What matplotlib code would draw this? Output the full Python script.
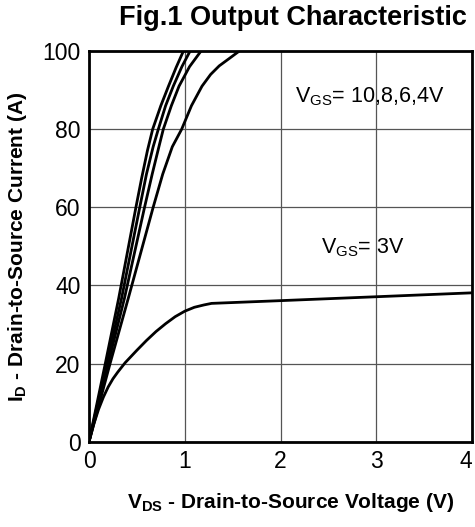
import matplotlib
matplotlib.use("Agg")
import matplotlib.pyplot as plt

plt.rcParams['font.family'] = ['Liberation Sans', 'DejaVu Sans']
plt.rcParams['mathtext.fontset'] = 'custom'
plt.rcParams['mathtext.rm'] = 'Liberation Sans'
plt.rcParams['mathtext.bf'] = 'Liberation Sans:bold'
plt.rcParams['mathtext.it'] = 'Liberation Sans:italic'

# Data
v10 = [0, 0.17, 0.31, 0.49, 0.55, 0.61, 0.665, 0.75, 0.83, 0.91, 0.986]
i10 = [0, 20, 36.7, 60, 67.5, 74.5, 80, 86, 91, 95.8, 100]
v8 = [0, 0.185, 0.34, 0.53, 0.60, 0.67, 0.724, 0.80, 0.88, 0.97, 1.056]
i8 = [0, 20, 36.7, 60, 68.5, 75.5, 80, 86, 91, 96, 100]
v6 = [0, 0.2, 0.37, 0.58, 0.66, 0.73, 0.776, 0.86, 0.94, 1.05, 1.17]
i6 = [0, 20, 36.7, 60, 68.5, 75.5, 80, 86, 91, 96, 100]
v4 = [0, 0.22, 0.41, 0.67, 0.77, 0.87, 0.968, 1.07, 1.18, 1.27, 1.36, 1.46, 1.57]
i4 = [0, 20, 36.7, 60, 68.5, 75.5, 80, 86, 91, 94.0, 96.2, 98.0, 100]
v3 = [0, 0.05, 0.1, 0.15, 0.2, 0.25, 0.3, 0.377, 0.45, 0.5, 0.6, 0.7, 0.8, 0.9, 1.0, 1.1, 1.2, 1.28, 2.0, 3.0, 4.0]
i3 = [0, 4.5, 8.3, 11.4, 14.0, 16.1, 17.8, 20.2, 22.1, 23.4, 25.9, 28.2, 30.2, 32.0, 33.4, 34.4, 35.0, 35.4, 36.1, 37.1, 38.1]

xticks = [0, 1, 2, 3, 4]
yticks = [0, 20, 40, 60, 80, 100]

fig = plt.figure(figsize=(4.75, 5.27), dpi=100)
ax = fig.add_axes([0.1874, 0.1619, 0.8063, 0.7413])

for v, i in [(v10, i10), (v8, i8), (v6, i6), (v4, i4), (v3, i3)]:
    ax.plot(v, i, color='black', lw=2.0, solid_joinstyle='round', solid_capstyle='round')

ax.set_xlim(0, 4)
ax.set_ylim(0, 100)
ax.set_xticks(xticks)
ax.set_yticks(yticks)
ax.set_xticklabels([str(t) for t in xticks], fontsize=16.5)
ax.set_yticklabels([str(t) for t in yticks], fontsize=16.5)
ax.tick_params(length=0, pad=6)
xl = ax.get_xticklabels()
xl[-1].set_horizontalalignment('right')
ax.grid(True, color='#555555', lw=0.9)
ax.set_axisbelow(True)
for s in ax.spines.values():
    s.set_linewidth(2.0)

ax.set_xlabel(r'$\mathbf{V_{DS}}$ - Drain-to-Source Voltage (V)', fontsize=15, fontweight='bold')
ax.xaxis.set_label_coords(0.527, -0.125)
ax.set_ylabel(r'$\mathbf{I_{D}}$ - Drain-to-Source Current (A)', fontsize=15, fontweight='bold', labelpad=10)
fig.text(0.617, 0.966, 'Fig.1 Output Characteristic', ha='center', va='center', fontsize=19.5, fontweight='bold')

ax.text(2.15, 88.4, r'$\mathregular{V_{GS}}$= 10,8,6,4V', fontsize=15.5, va='center', ha='left')
ax.text(2.42, 49.6, r'$\mathregular{V_{GS}}$= 3V', fontsize=15.5, va='center', ha='left')

fig.savefig('out.png', dpi=100)
